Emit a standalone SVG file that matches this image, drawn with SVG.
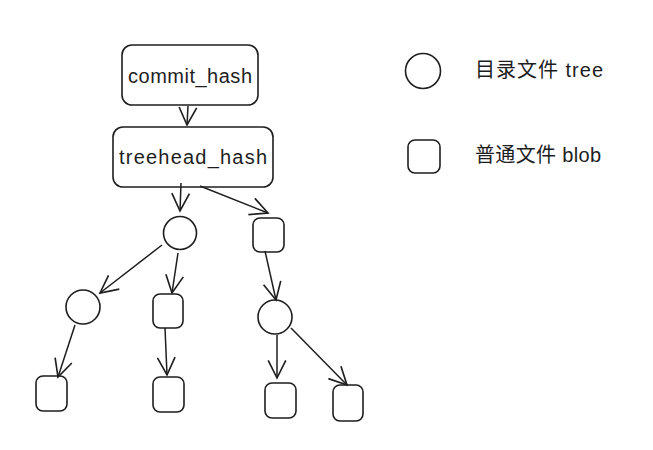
<svg xmlns="http://www.w3.org/2000/svg" width="653" height="450" viewBox="0 0 653 450">
<style>
.n{fill:none;stroke:#1e1e1e;stroke-width:1.6}
.c line{stroke:#1e1e1e;stroke-width:1.5;marker-end:url(#ah)}
.t{font-family:"Liberation Sans","Noto Sans CJK SC",sans-serif;font-size:20px;fill:#1e1e1e}
</style>
<defs>
<marker id="ah" viewBox="0 0 20 20" refX="18" refY="10" markerWidth="22" markerHeight="22" markerUnits="userSpaceOnUse" orient="auto">
<polyline points="2,2 18,10 2,18" fill="none" stroke="#1e1e1e" stroke-width="1.5"/>
</marker>
</defs>
<rect width="653" height="450" fill="#fff"/>
<g id="commit_hash"><rect class="n" x="122" y="45" width="136" height="60" rx="10"/><text class="t" x="190" y="83" text-anchor="middle" textLength="124">commit_hash</text></g>
<g id="treehead_hash"><rect class="n" x="113" y="127" width="160" height="60" rx="10"/><text class="t" x="193" y="164" text-anchor="middle" textLength="148">treehead_hash</text></g>
<g id="tree1"><circle class="n" cx="180" cy="233" r="16.5"/></g>
<g id="blob1"><rect class="n" x="253" y="218" width="31" height="34" rx="7"/></g>
<g id="tree2"><circle class="n" cx="83" cy="307" r="17"/></g>
<g id="blob2"><rect class="n" x="153" y="294" width="30" height="34" rx="7"/></g>
<g id="tree3"><circle class="n" cx="275" cy="317" r="17"/></g>
<g id="blob3"><rect class="n" x="36" y="376" width="31" height="35" rx="7"/></g>
<g id="blob4"><rect class="n" x="153" y="377" width="31" height="35" rx="7"/></g>
<g id="blob5"><rect class="n" x="265" y="383" width="31" height="35" rx="7"/></g>
<g id="blob6"><rect class="n" x="333" y="385" width="30" height="36" rx="7"/></g>
<g id="legend-tree"><circle class="n" cx="423" cy="71" r="17.5"/><text class="t" x="475" y="77" textLength="128">目录文件 tree</text></g>
<g id="legend-blob"><rect class="n" x="408" y="140" width="32" height="33" rx="7"/><text class="t" x="475" y="162" textLength="126">普通文件 blob</text></g>
<g id="connectors" class="c">
<line x1="188" y1="106" x2="187" y2="125"/>
<line x1="181" y1="183" x2="180" y2="211"/>
<line x1="200" y1="186" x2="268" y2="213"/>
<line x1="162" y1="245" x2="100" y2="293"/>
<line x1="178" y1="253" x2="172" y2="293"/>
<line x1="265" y1="251" x2="276" y2="300"/>
<line x1="75" y1="325" x2="58" y2="377"/>
<line x1="165" y1="328" x2="167" y2="375"/>
<line x1="277" y1="335" x2="277" y2="378"/>
<line x1="291" y1="328" x2="347" y2="385"/>
</g>
</svg>
